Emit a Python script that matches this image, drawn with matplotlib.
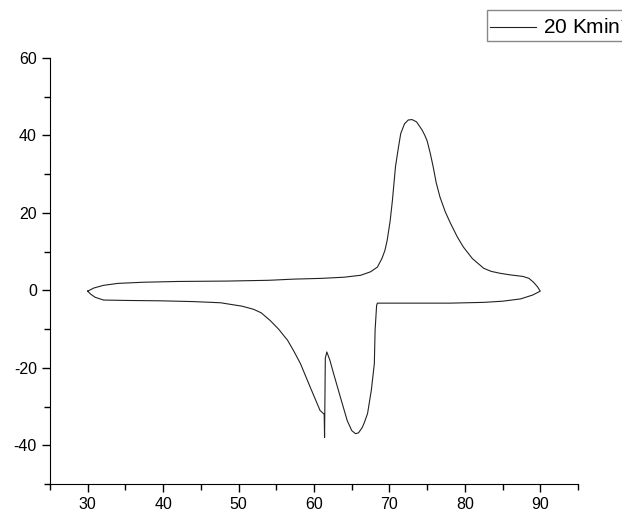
import matplotlib
matplotlib.use("Agg")
import matplotlib.pyplot as plt
from matplotlib.ticker import MultipleLocator

plt.rcParams['font.family'] = ['Liberation Sans', 'DejaVu Sans']
plt.rcParams['axes.unicode_minus'] = False

# heating branch (upper), temperature in C and heat flow
upper_T = [30.0, 30.8, 32.1, 34.0, 37.4, 42.0, 48.5, 54.0, 57.3, 61.0, 64.0, 66.2,
           67.5, 68.4, 69.0, 69.4, 69.7, 70.1, 70.4, 70.8, 71.2, 71.5, 72.0, 72.5, 73.0,
           73.6, 74.3, 74.7, 75.0, 75.4, 75.8, 76.2, 76.7, 77.4, 78.1, 79.0, 79.8, 81.0,
           82.5, 83.5, 84.7, 86.0, 87.7, 88.5, 89.1, 89.6, 90.0]
upper_Q = [-0.2, 0.6, 1.3, 1.8, 2.1, 2.3, 2.4, 2.6, 2.9, 3.1, 3.4, 3.9,
           4.8, 6.0, 8.2, 10.3, 12.9, 18.0, 23.3, 31.9, 37.0, 40.5, 43.0, 44.0, 44.1,
           43.5, 41.5, 40.0, 38.6, 35.5, 31.9, 27.8, 24.1, 20.3, 17.3, 13.8, 11.2, 8.2,
           5.7, 4.9, 4.4, 4.0, 3.6, 3.1, 2.1, 1.0, -0.2]

# cooling branch (lower), going back from 90 to 30
lower_T = [90.0, 89.0, 87.4, 85.0, 82.5, 78.0, 73.0, 68.4, 68.3, 68.1, 68.0, 67.6,
           67.1, 66.7, 66.4, 65.9, 65.5, 65.0, 64.4, 63.5, 62.6, 62.1, 61.7, 61.5, 61.4,
           61.35, 60.8, 59.5, 58.2, 57.3, 56.5, 55.3, 54.2, 53.0, 52.0, 50.5, 47.6, 44.0,
           39.7, 35.0, 32.1, 31.0, 30.4, 30.0]
lower_Q = [-0.2, -1.2, -2.2, -2.8, -3.1, -3.3, -3.3, -3.3, -3.9, -10.3, -18.9, -25.8,
           -31.8, -34.0, -35.4, -36.8, -37.0, -36.2, -33.6, -27.6, -21.5, -18.0, -15.9, -17.5, -38.0,
           -32.0, -31.0, -25.0, -18.9, -15.6, -12.9, -10.0, -7.8, -5.8, -4.9, -4.1, -3.2, -2.9,
           -2.7, -2.6, -2.5, -1.8, -1.0, -0.2]

T = upper_T + lower_T
Q = upper_Q + lower_Q

fig = plt.figure(figsize=(6.22, 5.15), dpi=100)
ax = fig.add_axes([50/622, 1-484/515, 528/622, 426/515])

ax.plot(T, Q, color='#222222', lw=0.8, label='20 Kmin$^{-1}$')

ax.set_xlim(25, 95)
ax.set_ylim(-50, 60)
ax.xaxis.set_major_locator(MultipleLocator(10))
ax.xaxis.set_minor_locator(MultipleLocator(5))
ax.yaxis.set_major_locator(MultipleLocator(20))
ax.yaxis.set_minor_locator(MultipleLocator(10))
ax.tick_params(which='major', direction='out', length=6, width=1, labelsize=11.5)
ax.tick_params(which='minor', direction='out', length=4, width=1)

for s in ['top', 'right']:
    ax.spines[s].set_visible(False)

leg = fig.legend(loc='upper left', bbox_to_anchor=(487/622, 1-10/515),
                 fontsize=15, handlelength=2.2, handletextpad=0.33,
                 borderpad=0.15, fancybox=False, framealpha=1, borderaxespad=0)
leg.get_frame().set_edgecolor('#888888')
leg.get_frame().set_linewidth(1.0)

plt.savefig('out.png', dpi=100)
